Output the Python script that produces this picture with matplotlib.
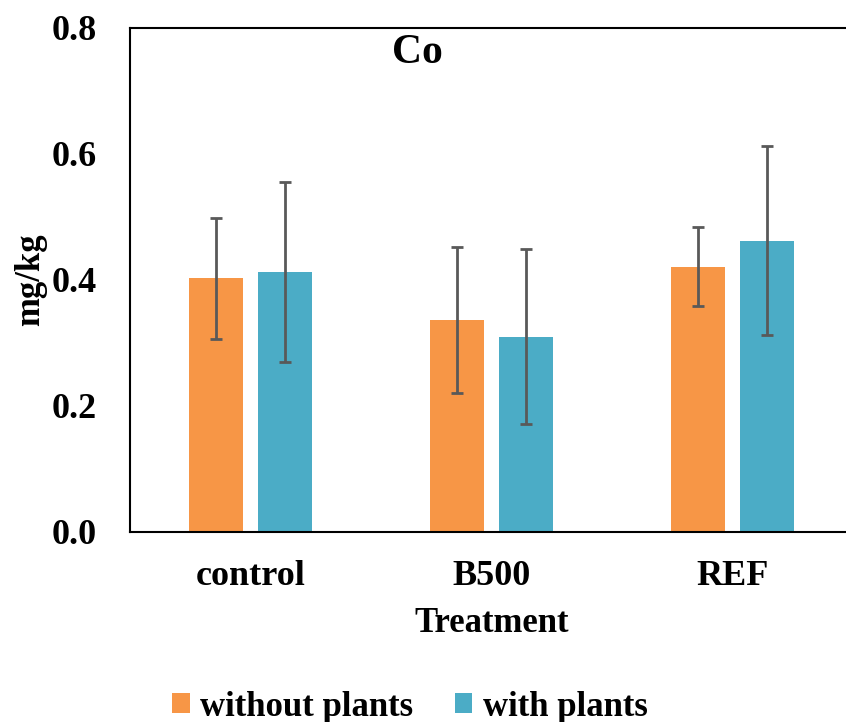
import numpy as np
import matplotlib; matplotlib.use("Agg")
import matplotlib.pyplot as plt

treatments = ["control", "B500", "REF"]
without_plants = [0.403, 0.337, 0.421]
without_err = [0.096, 0.116, 0.063]
with_plants = [0.413, 0.310, 0.462]
with_err = [0.143, 0.139, 0.150]

ORANGE, BLUE, EGRAY = "#F79646", "#4BACC6", "#595959"
plt.rcParams["font.family"] = ["Liberation Serif", "DejaVu Serif"]
plt.rcParams["font.weight"] = "bold"

fig = plt.figure(figsize=(8.46, 7.22), dpi=100)
ax = fig.add_axes([130/846, 190/722, 723/846, 504/722])
x = np.arange(len(treatments)); w = 0.224; off = 0.143
ek = dict(ecolor=EGRAY, elinewidth=2, capsize=4.5, capthick=2)
ax.bar(x-off, without_plants, w, yerr=without_err, color=ORANGE, label="without plants", error_kw=ek, zorder=2)
ax.bar(x+off, with_plants, w, yerr=with_err, color=BLUE, label="with plants", error_kw=ek, zorder=2)

ax.set_xlim(-0.5, 2.5); ax.set_ylim(0, 0.8)
ax.set_yticks([0, 0.2, 0.4, 0.6, 0.8]); ax.set_yticklabels(["0.0", "0.2", "0.4", "0.6", "0.8"])
ax.set_xticks(x); ax.set_xticklabels(treatments)
ax.tick_params(axis="y", length=0, pad=24, labelsize=26)
ax.tick_params(axis="x", length=0, pad=20, labelsize=26)
for s in ax.spines.values(): s.set_linewidth(1.5); s.set_color("black")
ax.set_xlabel("Treatment", fontsize=25, fontweight="bold", labelpad=6)
ax.xaxis.set_label_coords((492-130)/723, -0.148)
ax.set_ylabel("mg/kg", fontsize=25, fontweight="bold")
ax.yaxis.set_label_coords(-(130-47)/723, 0.5)
ax.text((417-130)/723, 0.95, "Co", transform=ax.transAxes, fontsize=30, fontweight="bold", ha="center", va="center")

fig.legend(loc="center", bbox_to_anchor=(410/846, 1-707/722), ncol=2, frameon=False,
           fontsize=25, handlelength=0.5, handleheight=0.5, handletextpad=0.3, columnspacing=1.2)
fig.savefig("out.png", dpi=100)
